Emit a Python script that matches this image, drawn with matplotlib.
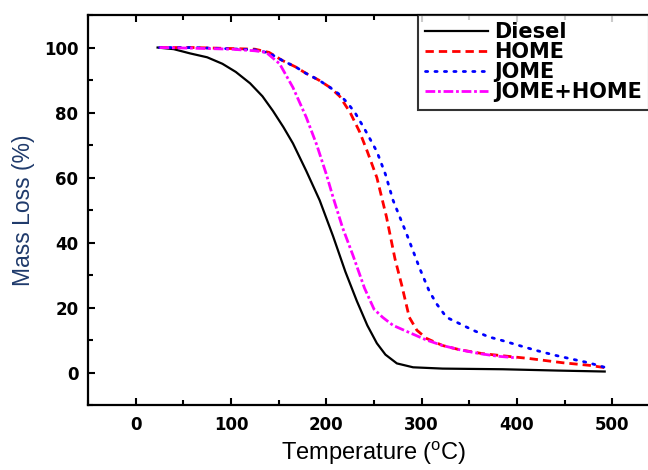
import numpy as np
import matplotlib
matplotlib.use('Agg')
from matplotlib import pyplot as plt
from matplotlib.ticker import MultipleLocator

plt.rcParams['font.family'] = ['Liberation Sans', 'DejaVu Sans']

# values
diesel_t = [23, 40, 57, 75, 91, 105, 120, 133, 144, 155, 165, 179, 193, 207, 220, 232, 243, 253, 262, 274, 291, 322, 385, 442, 492]
diesel_m = [100, 99.5, 98.2, 97, 95, 92.5, 89, 85, 80.5, 75.5, 70.5, 62, 53, 42, 31, 22, 14.5, 9, 5.5, 2.8, 1.6, 1.2, 1.0, 0.6, 0.3]

home_t = [25, 60, 100, 125, 140, 154, 168, 179, 192, 204, 214, 225, 235, 243, 253, 263, 272, 279, 287, 295, 305, 322, 340, 364, 390, 413, 448, 476, 492, 495]
home_m = [100, 100, 99.7, 99.5, 98.5, 96, 94, 92, 90, 87.7, 85, 80, 74, 68, 60, 48, 35, 27, 17, 13, 10.5, 8.3, 7, 5.8, 5, 4.3, 3, 2.2, 1.5, 0.8]

jome_t = [25, 60, 100, 125, 140, 154, 168, 179, 192, 204, 214, 222, 230, 240, 253, 262, 270, 284, 298, 308, 316, 326, 340, 354, 370, 385, 400, 420, 440, 455, 475, 492]
jome_m = [100, 100, 99.6, 99.3, 98.3, 96, 94, 92, 90, 87.7, 85.5, 83, 80, 75, 68, 61, 53, 42.8, 32, 25, 21, 17, 15, 13, 11, 9.8, 8.5, 6.8, 5.3, 4.3, 3, 1.6]

blend_t = [25, 60, 100, 125, 137, 151, 165, 179, 190, 200, 207, 217, 228, 240, 250, 259, 270, 287, 305, 322, 340, 361, 380, 400]
blend_m = [100, 99.8, 99.5, 99, 98.5, 95, 87.7, 78.5, 70, 61, 54, 44.6, 36, 26, 19.5, 17, 14.5, 12.3, 10, 8.3, 7, 5.8, 5, 4.5]

fig = plt.figure(figsize=(6.48, 4.70), dpi=100)
# the reference is cropped on the right, so the axes run past the figure edge
ax = fig.add_axes([0.1358, 0.1383, 0.8827, 0.8297])

ax.plot(diesel_t, diesel_m, color='black', lw=1.6, ls='-', label='Diesel')
ax.plot(home_t, home_m, color='red', lw=2.0, ls=(0, (3, 1.8)), label='HOME')
ax.plot(jome_t, jome_m, color='blue', lw=2.0, ls=(0, (0.8, 2.6)), dash_capstyle='round', label='JOME')
ax.plot(blend_t, blend_m, color='magenta', lw=2.0, ls=(0, (3.5, 1, 1, 1)), label='JOME+HOME')

ax.set_xlim(-50, 550)
ax.set_ylim(-10, 110)
ax.xaxis.set_minor_locator(MultipleLocator(50))
ax.yaxis.set_minor_locator(MultipleLocator(10))
ax.set_xticks([0, 100, 200, 300, 400, 500])
ax.set_yticks([0, 20, 40, 60, 80, 100])

ax.tick_params(axis='both', which='major', direction='out', length=5, width=1.5)
ax.tick_params(axis='both', which='minor', direction='out', length=3.5, width=1.5)
ax.tick_params(axis='x', which='major', pad=8)
ax.tick_params(axis='y', which='major', pad=7)
ax.tick_params(top=True, which='both', direction='in')
for lab in ax.get_xticklabels() + ax.get_yticklabels():
    lab.set_fontfamily('DejaVu Sans')
    lab.set_fontweight('bold')
    lab.set_fontsize(12)
for s in ax.spines.values():
    s.set_linewidth(1.6)
ax.spines['right'].set_visible(False)

ax.set_xlabel('Temperature ($\\mathregular{^o}$C)', fontsize=17, labelpad=4)
ax.set_ylabel('Mass Loss (%)', fontsize=16.5, color='#1f3a6b', labelpad=6)

leg = ax.legend(loc='upper left', bbox_to_anchor=(0.577, 1.0), frameon=True, fancybox=False,
                edgecolor='black', prop={'family': 'DejaVu Sans', 'weight': 'bold', 'size': 15},
                handlelength=3.0, handletextpad=0.3, labelspacing=0.0, borderpad=0.35,
                borderaxespad=0)
leg.get_frame().set_linewidth(1.5)

fig.savefig('out.png', dpi=100)
